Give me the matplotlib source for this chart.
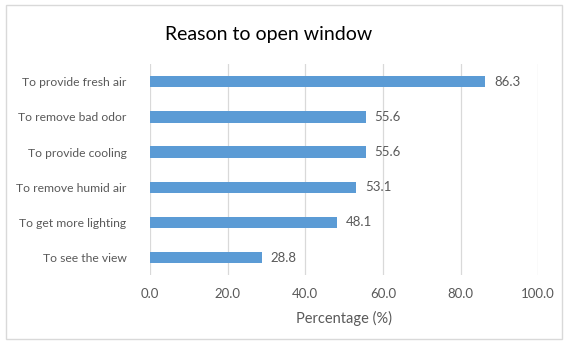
import matplotlib.pyplot as plt
from matplotlib.patches import Rectangle

reasons = ["To provide fresh air", "To remove bad odor", "To provide cooling",
           "To remove humid air", "To get more lighting", "To see the view"]
values = [86.3, 55.6, 55.6, 53.1, 48.1, 28.8]
xticks = [0, 20, 40, 60, 80, 100]

plt.rcParams['font.family'] = ['Lato', 'DejaVu Sans']
txt = '#595959'
bar_col = '#5B9BD5'

fig = plt.figure(figsize=(5.65, 3.43), dpi=100)
ax = fig.add_axes([0.2655, 0.198, 0.687, 0.615])

ypos = list(range(len(reasons)))
ax.barh(ypos, values, height=0.32, color=bar_col, zorder=3)
for y, v in zip(ypos, values):
    ax.text(v + 2.3, y, f"{v:.1f}", va='center', ha='left', fontsize=9.5, color=txt)

ax.set_yticks(ypos)
ax.set_yticklabels(reasons, fontsize=8.7, color=txt)
ax.set_ylim(len(reasons) - 0.5, -0.5)
ax.set_xlim(0, 100)
ax.set_xticks(xticks)
ax.set_xticklabels([f"{t:.1f}" for t in xticks], fontsize=9.5, color=txt)
ax.tick_params(length=0, pad=9)
ax.tick_params(axis='y', pad=17)
ax.grid(axis='x', color='#D9D9D9', linewidth=0.9, zorder=0)
for s in ax.spines.values():
    s.set_visible(False)
ax.set_xlabel("Percentage (%)", fontsize=10.5, color=txt, labelpad=8)

fig.text(0.475, 0.9, "Reason to open window", ha='center', va='center',
         fontsize=14, color='#000000')
fig.patches.append(Rectangle((0.01, 0.013), 0.985, 0.972, transform=fig.transFigure,
                             fill=False, edgecolor='#D9D9D9', linewidth=1))

fig.savefig("out.png", dpi=100)
